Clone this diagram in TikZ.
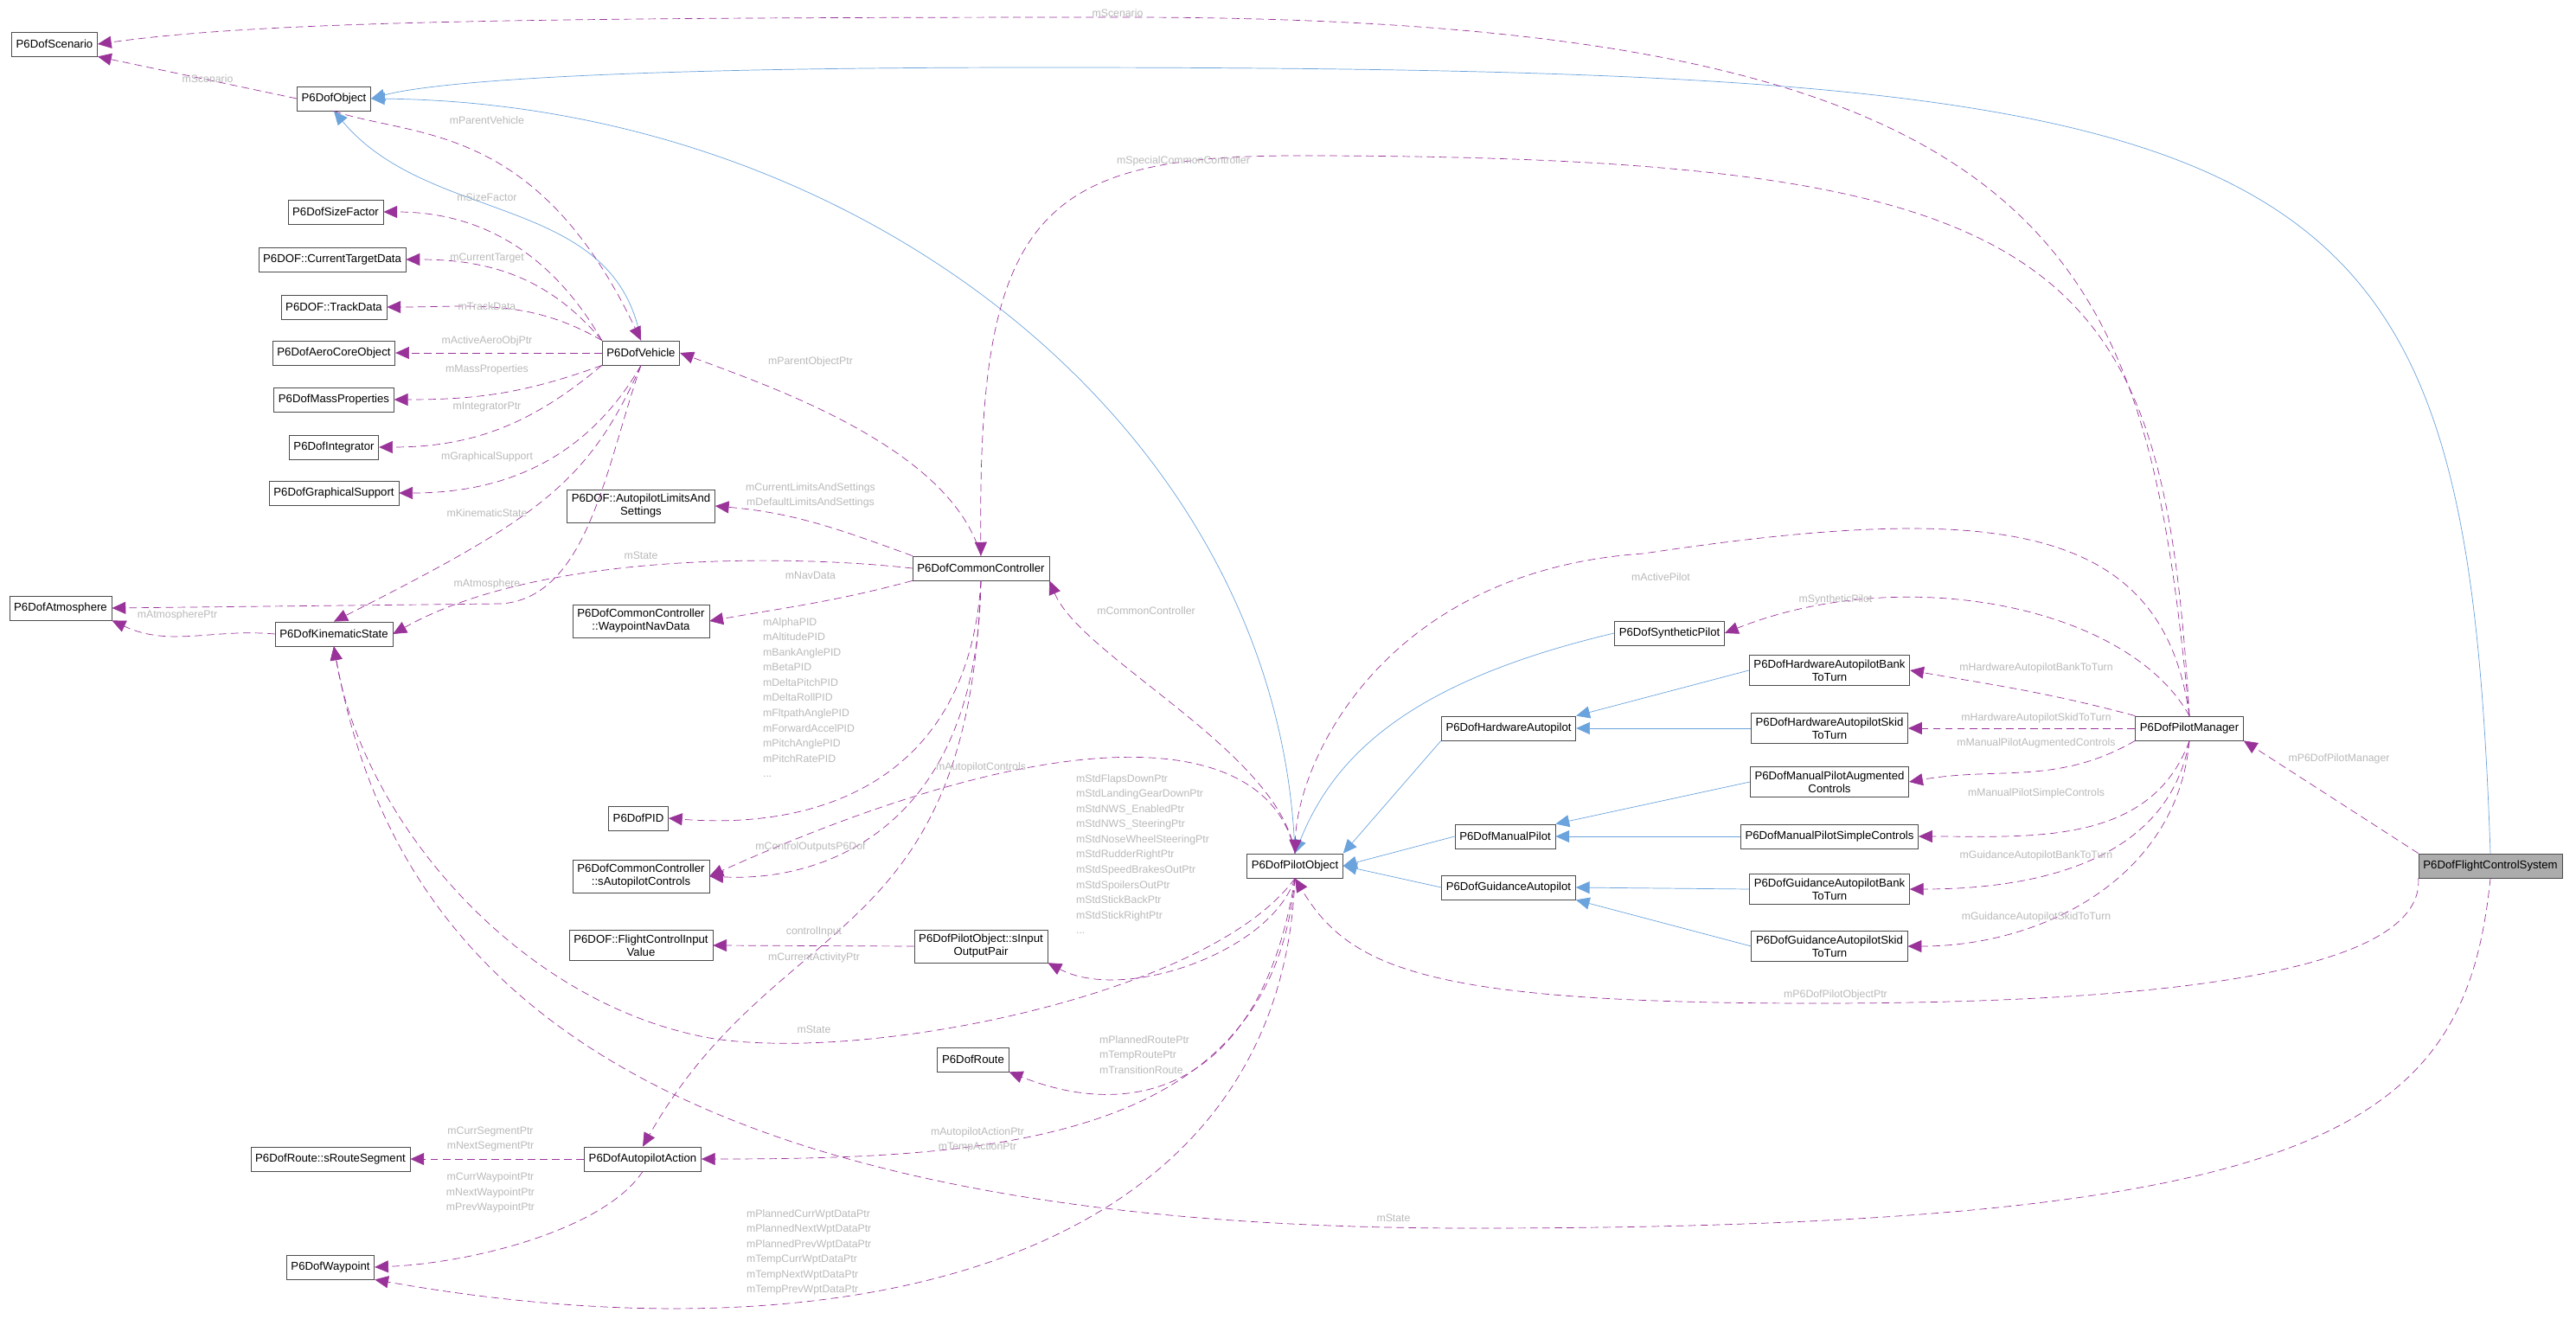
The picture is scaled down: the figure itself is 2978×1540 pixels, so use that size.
\documentclass[tikz,border=0pt]{standalone}
\usepackage{fontspec}
\setmainfont{Liberation Sans}
\usetikzlibrary{arrows.meta}

\begin{document}
\begin{tikzpicture}[x=0.02cm,y=0.02cm,
  cls/.style={draw=gray!60!black,fill=white,font=\fontsize{7.5}{8.5}\selectfont,inner sep=3pt,minimum height=16pt,align=center},
  lbl/.style={text=gray!55,font=\fontsize{7}{10}\selectfont,inner sep=1pt},
  inh/.style={draw=cyan!60!blue!60,-{Triangle[length=9pt,width=8pt]}},
  use/.style={draw=violet!80,dashed,dash pattern=on 5pt off 3pt,-{Triangle[length=9pt,width=8pt,fill=violet!80]}}]
\useasboundingbox (0,0) rectangle (2978,-1540);

% classes
\node[cls] (scen) at (63,-51) {P6DofScenario};
\node[cls] (obj) at (386,-114) {P6DofObject};
\node[cls] (size) at (388,-245) {P6DofSizeFactor};
\node[cls] (ctd) at (384,-300) {P6DOF::CurrentTargetData};
\node[cls] (trk) at (386,-355) {P6DOF::TrackData};
\node[cls] (aero) at (386,-408) {P6DofAeroCoreObject};
\node[cls] (mass) at (386,-462) {P6DofMassProperties};
\node[cls] (integ) at (386,-517) {P6DofIntegrator};
\node[cls] (gfx) at (386,-570) {P6DofGraphicalSupport};
\node[cls] (veh) at (741,-408) {P6DofVehicle};
\node[cls] (lim) at (741,-585) {P6DOF::AutopilotLimitsAnd\\Settings};
\node[cls] (atm) at (70,-703) {P6DofAtmosphere};
\node[cls] (ks) at (386,-733) {P6DofKinematicState};
\node[cls] (cc) at (1134,-657) {P6DofCommonController};
\node[cls] (nav) at (741,-718) {P6DofCommonController\\::WaypointNavData};
\node[cls] (pid) at (738,-946) {P6DofPID};
\node[cls] (sap) at (741,-1013) {P6DofCommonController\\::sAutopilotControls};
\node[cls] (fciv) at (741,-1093) {P6DOF::FlightControlInput\\Value};
\node[cls] (pair) at (1134,-1094) {P6DofPilotObject::sInput\\OutputPair};
\node[cls] (route) at (1125,-1225) {P6DofRoute};
\node[cls] (seg) at (382,-1340) {P6DofRoute::sRouteSegment};
\node[cls] (act) at (743,-1340) {P6DofAutopilotAction};
\node[cls] (wpt) at (382,-1465) {P6DofWaypoint};
\node[cls] (pilot) at (1497,-1001) {P6DofPilotObject};
\node[cls] (syn) at (1930,-732) {P6DofSyntheticPilot};
\node[cls] (hwa) at (1744,-842) {P6DofHardwareAutopilot};
\node[cls] (man) at (1740,-967) {P6DofManualPilot};
\node[cls] (gui) at (1744,-1026) {P6DofGuidanceAutopilot};
\node[cls] (hwbank) at (2115,-775) {P6DofHardwareAutopilotBank\\ToTurn};
\node[cls] (hwskid) at (2115,-842) {P6DofHardwareAutopilotSkid\\ToTurn};
\node[cls] (aug) at (2115,-904) {P6DofManualPilotAugmented\\Controls};
\node[cls] (simple) at (2115,-967) {P6DofManualPilotSimpleControls};
\node[cls] (gbank) at (2115,-1028) {P6DofGuidanceAutopilotBank\\ToTurn};
\node[cls] (gskid) at (2115,-1094) {P6DofGuidanceAutopilotSkid\\ToTurn};
\node[cls] (mgr) at (2531,-842) {P6DofPilotManager};
\node[cls,fill=gray!65] (fcs) at (2879,-1001) {P6DofFlightControlSystem};

% inheritance
\draw[inh] (veh.north) to[out=100,in=-50] (obj.south);
\draw[inh] (pilot.north) .. controls (1480,-500) and (1000,-120) .. (obj.east);
\draw[inh] (fcs.north) .. controls (2850,-150) and (2700,-78) .. (1200,-78) .. controls (700,-78) and (500,-95) .. (obj.east);
\draw[inh] (syn.west) .. controls (1620,-790) and (1540,-880) .. (pilot.north);
\draw[inh] (hwa.south west) -- (pilot.north east);
\draw[inh] (man.west) -- (pilot.east);
\draw[inh] (gui.west) -- (pilot.east);
\draw[inh] (hwbank.west) -- (hwa.north east);
\draw[inh] (hwskid.west) -- (hwa.east);
\draw[inh] (aug.west) -- (man.north east);
\draw[inh] (simple.west) -- (man.east);
\draw[inh] (gbank.west) -- (gui.east);
\draw[inh] (gskid.west) -- (gui.south east);

% members
\draw[use] (mgr.north) .. controls (2480,-300) and (2400,-20) .. (1300,-20) .. controls (600,-20) and (300,-25) .. (scen.east);
\draw[use] (obj.west) -- (scen.south east);
\draw[use] (obj.south) .. controls (480,-160) and (620,-140) .. (veh.north);
\draw[use] (veh.north west) to[out=120,in=0] (size.east);
\draw[use] (veh.north west) to[out=130,in=0] (ctd.east);
\draw[use] (veh.north west) to[out=150,in=0] (trk.east);
\draw[use] (veh.west) -- (aero.east);
\draw[use] (veh.south west) to[out=-160,in=0] (mass.east);
\draw[use] (veh.south west) to[out=-140,in=0] (integ.east);
\draw[use] (veh.south) to[out=-120,in=0] (gfx.east);
\draw[use] (veh.south) .. controls (680,-560) and (620,-600) .. (ks.north);
\draw[use] (veh.south) .. controls (700,-540) and (680,-690) .. (580,-698) -- (atm.east);
\draw[use] (ks.west) to[out=175,in=-25] (atm.south east);
\draw[use] (cc.north) .. controls (1100,-520) and (900,-450) .. (veh.east);
\draw[use] (cc.north west) to[out=160,in=-5] (lim.east);
\draw[use] (cc.west) .. controls (900,-640) and (620,-640) .. (ks.east);
\draw[use] (cc.south west) to[out=-165,in=10] (nav.east);
\draw[use] (cc.south) .. controls (1120,-900) and (950,-960) .. (pid.east);
\draw[use] (cc.south) .. controls (1130,-960) and (950,-1020) .. (sap.east);
\draw[use] (cc.south) .. controls (1120,-1100) and (900,-1050) .. (act.north);
\draw[use] (pilot.north) .. controls (1470,-850) and (1250,-820) .. (sap.east);
\draw[use] (pilot.north) .. controls (1480,-870) and (1250,-760) .. (cc.south east);
\draw[use] (pilot.south) .. controls (1470,-1100) and (1300,-1160) .. (pair.south east);
\draw[use] (pair.west) -- (fciv.east);
\draw[use] (pilot.south) .. controls (1400,-1150) and (1000,-1230) .. (820,-1200) .. controls (600,-1160) and (420,-950) .. (ks.south);
\draw[use] (pilot.south) .. controls (1460,-1250) and (1320,-1300) .. (route.south east);
\draw[use] (pilot.south) .. controls (1470,-1320) and (1150,-1340) .. (act.east);
\draw[use] (pilot.south) .. controls (1480,-1450) and (1000,-1580) .. (wpt.south east);
\draw[use] (act.west) -- (seg.east);
\draw[use] (act.south) .. controls (700,-1420) and (550,-1460) .. (wpt.east);
\draw[use] (mgr.north) .. controls (2500,-600) and (2300,-580) .. (1900,-640) .. controls (1600,-660) and (1500,-880) .. (pilot.north);
\draw[use] (mgr.north) .. controls (2460,-700) and (2200,-650) .. (syn.east);
\draw[use] (mgr.north west) to[out=165,in=-10] (hwbank.east);
\draw[use] (mgr.west) -- (hwskid.east);
\draw[use] (mgr.south west) to[out=-150,in=10] (aug.east);
\draw[use] (mgr.south) to[out=-110,in=0] (simple.east);
\draw[use] (mgr.south) to[out=-100,in=0] (gbank.east);
\draw[use] (mgr.south) to[out=-95,in=0] (gskid.east);
\draw[use] (mgr.north) .. controls (2500,-300) and (2400,-180) .. (1500,-180) .. controls (1200,-180) and (1130,-250) .. (cc.north);
\draw[use] (fcs.north west) -- (mgr.south east);
\draw[use] (fcs.south west) .. controls (2800,-1080) and (2700,-1160) .. (2100,-1160) .. controls (1650,-1160) and (1560,-1120) .. (pilot.south);
\draw[use] (fcs.south) .. controls (2850,-1300) and (2700,-1420) .. (1700,-1420) .. controls (700,-1420) and (450,-1100) .. (ks.south);

% member names
\node[lbl] at (1292,-15) {mScenario};
\node[lbl] at (240,-91) {mScenario};
\node[lbl] at (563,-139) {mParentVehicle};
\node[lbl] at (563,-228) {mSizeFactor};
\node[lbl] at (563,-298) {mCurrentTarget};
\node[lbl] at (563,-354) {mTrackData};
\node[lbl] at (563,-394) {mActiveAeroObjPtr};
\node[lbl] at (563,-427) {mMassProperties};
\node[lbl] at (563,-471) {mIntegratorPtr};
\node[lbl] at (563,-528) {mGraphicalSupport};
\node[lbl] at (563,-593) {mKinematicState};
\node[lbl] at (563,-675) {mAtmosphere};
\node[lbl] at (205,-711) {mAtmospherePtr};
\node[lbl] at (741,-642) {mState};
\node[lbl] at (937,-418) {mParentObjectPtr};
\node[lbl,align=center] at (937,-573) {mCurrentLimitsAndSettings\\mDefaultLimitsAndSettings};
\node[lbl] at (937,-665) {mNavData};
\node[lbl,align=left,anchor=north west] at (880,-712) {mAlphaPID\\mAltitudePID\\mBankAnglePID\\mBetaPID\\mDeltaPitchPID\\mDeltaRollPID\\mFltpathAnglePID\\mForwardAccelPID\\mPitchAnglePID\\mPitchRatePID\\...};
\node[lbl] at (937,-979) {mControlOutputsP6Dof};
\node[lbl] at (1134,-887) {mAutopilotControls};
\node[lbl] at (941,-1077) {controlInput};
\node[lbl] at (941,-1107) {mCurrentActivityPtr};
\node[lbl] at (1325,-706) {mCommonController};
\node[lbl,align=left,anchor=north west] at (1242,-893) {mStdFlapsDownPtr\\mStdLandingGearDownPtr\\mStdNWS\_EnabledPtr\\mStdNWS\_SteeringPtr\\mStdNoseWheelSteeringPtr\\mStdRudderRightPtr\\mStdSpeedBrakesOutPtr\\mStdSpoilersOutPtr\\mStdStickBackPtr\\mStdStickRightPtr\\...};
\node[lbl] at (941,-1190) {mState};
\node[lbl,align=left,anchor=north west] at (1269,-1195) {mPlannedRoutePtr\\mTempRoutePtr\\mTransitionRoute};
\node[lbl,align=center] at (1130,-1318) {mAutopilotActionPtr\\mTempActionPtr};
\node[lbl,align=center] at (567,-1317) {mCurrSegmentPtr\\mNextSegmentPtr};
\node[lbl,align=center] at (567,-1379) {mCurrWaypointPtr\\mNextWaypointPtr\\mPrevWaypointPtr};
\node[lbl,align=left,anchor=north west] at (861,-1396) {mPlannedCurrWptDataPtr\\mPlannedNextWptDataPtr\\mPlannedPrevWptDataPtr\\mTempCurrWptDataPtr\\mTempNextWptDataPtr\\mTempPrevWptDataPtr};
\node[lbl] at (1611,-1408) {mState};
\node[lbl] at (1368,-186) {mSpecialCommonController};
\node[lbl] at (1920,-667) {mActivePilot};
\node[lbl] at (2122,-693) {mSyntheticPilot};
\node[lbl] at (2354,-772) {mHardwareAutopilotBankToTurn};
\node[lbl] at (2354,-830) {mHardwareAutopilotSkidToTurn};
\node[lbl] at (2354,-859) {mManualPilotAugmentedControls};
\node[lbl] at (2354,-917) {mManualPilotSimpleControls};
\node[lbl] at (2354,-989) {mGuidanceAutopilotBankToTurn};
\node[lbl] at (2354,-1060) {mGuidanceAutopilotSkidToTurn};
\node[lbl] at (2704,-877) {mP6DofPilotManager};
\node[lbl] at (2122,-1150) {mP6DofPilotObjectPtr};
\end{tikzpicture}
\end{document}
